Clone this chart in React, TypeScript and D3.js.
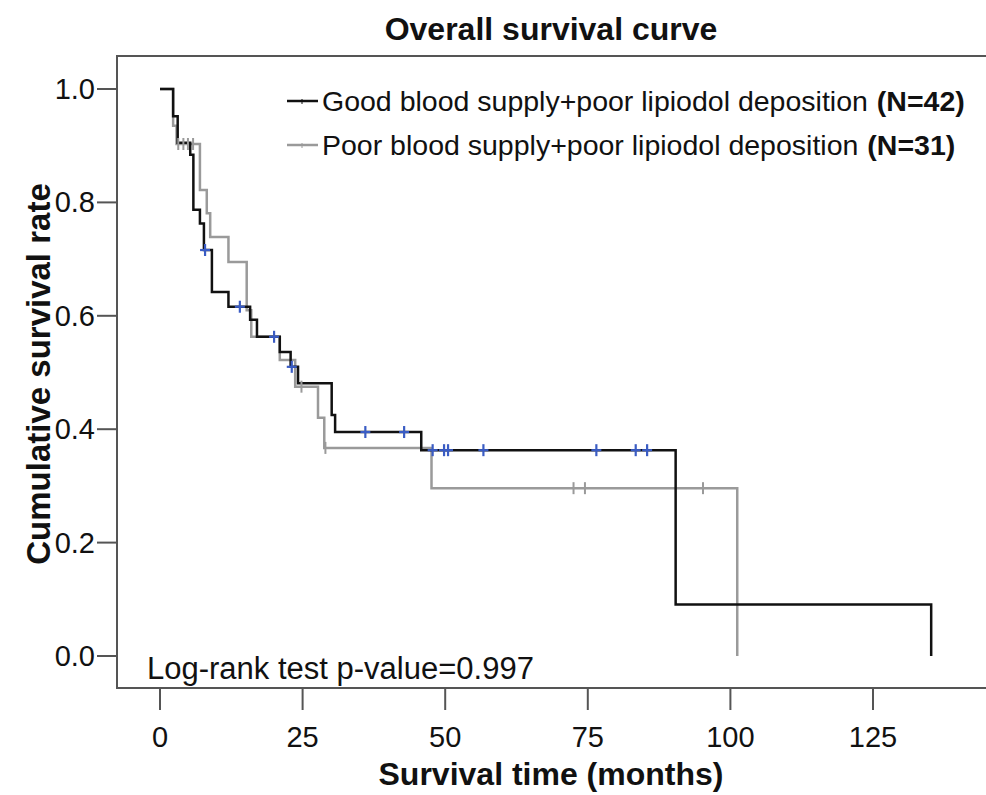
import React from 'react';
import * as d3 from 'd3';

// Kaplan-Meier steps: [time in months, survival after that time]
const goodSteps: [number, number][] = [
  [0, 1.0], [2.3, 0.952], [3.1, 0.905], [5.3, 0.884], [5.85, 0.787], [7.0, 0.763],
  [7.7, 0.716], [9.1, 0.642], [12.0, 0.616], [15.8, 0.593], [17.0, 0.563],
  [21.0, 0.536], [22.9, 0.51], [24.2, 0.481], [30.1, 0.425], [30.7, 0.395],
  [45.8, 0.363], [90.4, 0.091], [135.2, 0.0],
];
const goodCensored = [7.9, 14, 20, 23.1, 36, 42.8, 47.8, 49.8, 50.5, 56.7, 76.5, 83.4, 85.4];

const poorSteps: [number, number][] = [
  [0, 1.0], [2.3, 0.935], [2.9, 0.903], [7.0, 0.822], [8.2, 0.781], [8.8, 0.739],
  [12.0, 0.695], [15.2, 0.61], [16.0, 0.563], [21.0, 0.522], [23.7, 0.475],
  [27.7, 0.42], [28.8, 0.367], [47.6, 0.296], [101.2, 0.0],
];
const poorCensored = [3.2, 4.1, 4.9, 5.8, 24.8, 29.0, 72.5, 74.5, 95.2];

const xTicks = [0, 25, 50, 75, 100, 125];
const yTicks = [0, 0.2, 0.4, 0.6, 0.8, 1.0];

const legendLabels = [
  { name: 'Good blood supply+poor lipiodol deposition', n: '(N=42)', color: '#111111' },
  { name: 'Poor blood supply+poor lipiodol deposition', n: '(N=31)', color: '#9a9a9a' },
];

const FONT = '"Liberation Sans", Arial, sans-serif';

const survAt = (steps: [number, number][], t: number) => {
  let s = steps[0][1];
  for (const [ti, si] of steps) if (ti <= t) s = si;
  return s;
};

export default function App() {
  const width = 986;
  const height = 795;
  const frame = { left: 117, top: 56, right: 992, bottom: 688 };

  const x = d3.scaleLinear().domain([0, 125]).range([160, 873]);
  const y = d3.scaleLinear().domain([0, 1]).range([656, 89]);

  const line = d3
    .line<[number, number]>()
    .x((d) => x(d[0]))
    .y((d) => y(d[1]))
    .curve(d3.curveStepAfter);

  return (
    <svg
      width={width}
      height={height}
      style={{ position: 'absolute', left: 0, top: 0, background: '#fff' }}
      fontFamily={FONT}
    >
      <rect width={width} height={height} fill="#fff" />
      <text x={551} y={40} textAnchor="middle" fontSize={32} fontWeight="bold" fill="#111">
        Overall survival curve
      </text>

      {/* frame */}
      <rect
        x={frame.left}
        y={frame.top}
        width={frame.right - frame.left}
        height={frame.bottom - frame.top}
        fill="none"
        stroke="#555"
        strokeWidth={2}
      />

      {/* y axis */}
      {yTicks.map((t) => (
        <g key={t}>
          <line x1={frame.left - 20} x2={frame.left} y1={y(t)} y2={y(t)} stroke="#555" strokeWidth={2} />
          <text x={frame.left - 22} y={y(t) + 10} textAnchor="end" fontSize={29} fill="#111">
            {t.toFixed(1)}
          </text>
        </g>
      ))}
      <text
        transform={`translate(50,374) rotate(-90)`}
        textAnchor="middle"
        fontSize={33}
        fontWeight="bold"
        fill="#111"
      >
        Cumulative survival rate
      </text>

      {/* x axis */}
      {xTicks.map((t) => (
        <g key={t}>
          <line x1={x(t)} x2={x(t)} y1={frame.bottom} y2={frame.bottom + 22} stroke="#555" strokeWidth={2} />
          <text x={x(t)} y={747} textAnchor="middle" fontSize={29} fill="#111">
            {t}
          </text>
        </g>
      ))}
      <text x={551} y={785} textAnchor="middle" fontSize={32} fontWeight="bold" fill="#111">
        Survival time (months)
      </text>

      {/* curves */}
      <path d={line(poorSteps) ?? ''} fill="none" stroke="#9a9a9a" strokeWidth={2.5} />
      <path d={line(goodSteps) ?? ''} fill="none" stroke="#111" strokeWidth={2.5} />

      {poorCensored.map((t, i) => (
        <line
          key={`p${i}`}
          x1={x(t)}
          x2={x(t)}
          y1={y(survAt(poorSteps, t)) - 6}
          y2={y(survAt(poorSteps, t)) + 6}
          stroke="#9a9a9a"
          strokeWidth={2}
        />
      ))}
      {goodCensored.map((t, i) => {
        const cx = x(t);
        const cy = y(survAt(goodSteps, t));
        return (
          <g key={`g${i}`} stroke="#3a5cc4" strokeWidth={2.2}>
            <line x1={cx} x2={cx} y1={cy - 6} y2={cy + 6} />
            <line x1={cx - 5} x2={cx + 5} y1={cy} y2={cy} />
          </g>
        );
      })}

      {/* legend */}
      {legendLabels.map((l, i) => {
        const ly = 101 + i * 44;
        return (
          <g key={l.name}>
            <line x1={287} x2={318} y1={ly} y2={ly} stroke={l.color} strokeWidth={2.5} />
            <line x1={302} x2={302} y1={ly - 2} y2={ly + 3} stroke={l.color} strokeWidth={1} />
            <text x={322} y={ly + 10} fontSize={28.5} fill="#111">
              {l.name}
              <tspan fontWeight="bold" dx={9}>{l.n}</tspan>
            </text>
          </g>
        );
      })}

      <text x={147} y={679} fontSize={31} fill="#111">
        Log-rank test p-value=0.997
      </text>
    </svg>
  );
}
